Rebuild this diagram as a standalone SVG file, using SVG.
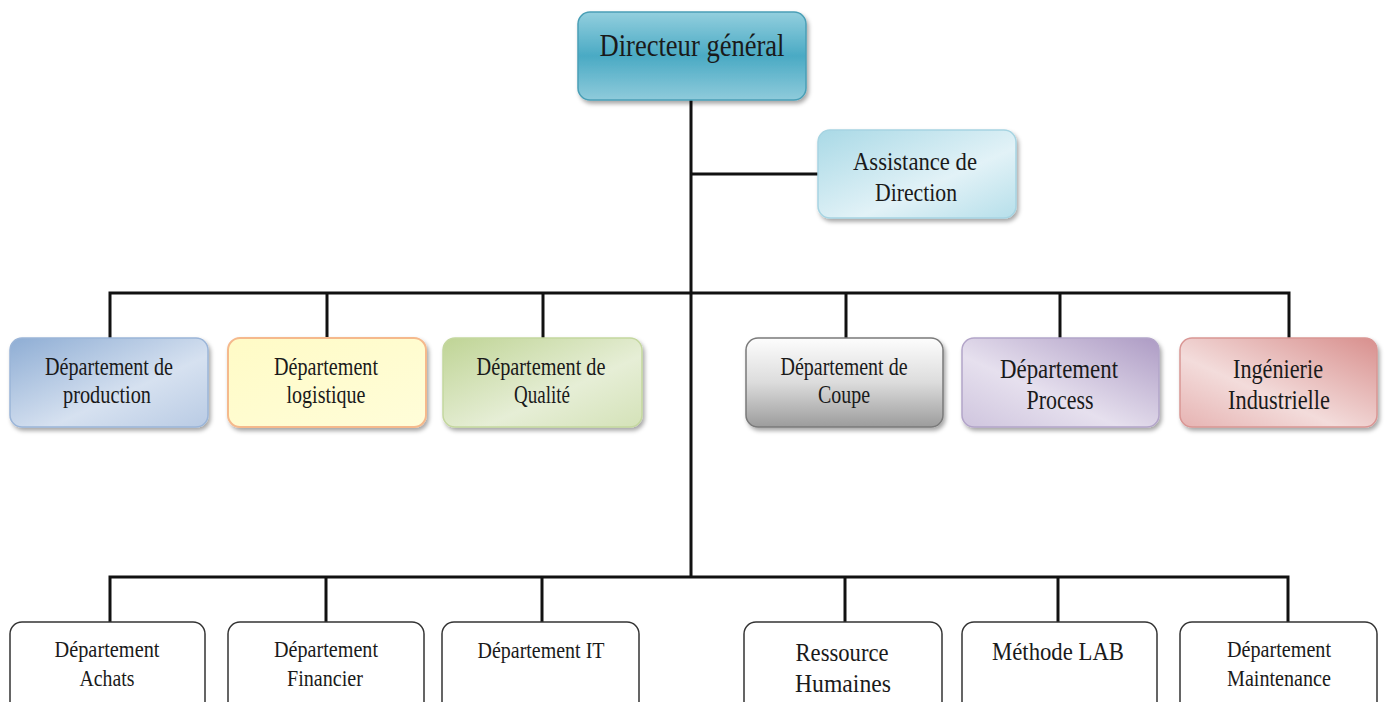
<svg xmlns="http://www.w3.org/2000/svg" width="1386" height="702" viewBox="0 0 1386 702">
<style>
text{font-family:"Liberation Serif","Times New Roman",serif;fill:#1a1a1a;text-anchor:middle}
.t{font-size:25px}
.t2{font-size:23px}
.c{stroke:#111;stroke-width:3;fill:none}
.w{fill:#fff;stroke:#333;stroke-width:1.5}
</style>
<defs>
<filter id="sh" x="-10%" y="-10%" width="125%" height="130%">
<feDropShadow dx="2" dy="3" stdDeviation="2" flood-color="#000" flood-opacity="0.35"/>
</filter>
<linearGradient id="gDG" x1="0" y1="0" x2="0" y2="1">
<stop offset="0" stop-color="#93cfde"/><stop offset="0.5" stop-color="#4aaac4"/><stop offset="1" stop-color="#8fcbdb"/>
</linearGradient>
<linearGradient id="gAs" x1="0" y1="0" x2="1" y2="1">
<stop offset="0" stop-color="#a9d9e6"/><stop offset="0.6" stop-color="#e2f2f7"/><stop offset="1" stop-color="#b6dfea"/>
</linearGradient>
<linearGradient id="g1" x1="0" y1="0" x2="1" y2="1">
<stop offset="0" stop-color="#8eadd4"/><stop offset="0.6" stop-color="#d6e1f0"/><stop offset="1" stop-color="#b9cbe4"/>
</linearGradient>
<linearGradient id="g2" x1="0" y1="0" x2="1" y2="1">
<stop offset="0" stop-color="#fffbc6"/><stop offset="1" stop-color="#fffdd9"/>
</linearGradient>
<linearGradient id="g3" x1="0" y1="0" x2="1" y2="1">
<stop offset="0" stop-color="#bfd495"/><stop offset="0.6" stop-color="#e6eed6"/><stop offset="1" stop-color="#d4e2b8"/>
</linearGradient>
<linearGradient id="g4" x1="0" y1="0" x2="0" y2="1">
<stop offset="0" stop-color="#fdfdfd"/><stop offset="0.5" stop-color="#dcdcdc"/><stop offset="1" stop-color="#9c9c9c"/>
</linearGradient>
<linearGradient id="g5" x1="1" y1="0" x2="0" y2="1">
<stop offset="0" stop-color="#ad9bc4"/><stop offset="0.6" stop-color="#e6e0ee"/><stop offset="1" stop-color="#cfc5de"/>
</linearGradient>
<linearGradient id="g6" x1="1" y1="0" x2="0" y2="1">
<stop offset="0" stop-color="#d88f8d"/><stop offset="0.6" stop-color="#f3dcdb"/><stop offset="1" stop-color="#e6b3b2"/>
</linearGradient>
</defs>

<g id="connectors">
<line class="c" x1="691" y1="100" x2="691" y2="578"/>
<line class="c" x1="691" y1="174" x2="818" y2="174"/>
<polyline class="c" points="110,338 110,293 1289,293 1289,338"/>
<line class="c" x1="327" y1="293" x2="327" y2="338"/>
<line class="c" x1="543" y1="293" x2="543" y2="338"/>
<line class="c" x1="846" y1="293" x2="846" y2="338"/>
<line class="c" x1="1060" y1="293" x2="1060" y2="338"/>
<polyline class="c" points="110,622 110,577 1288,577 1288,622"/>
<line class="c" x1="326" y1="577" x2="326" y2="622"/>
<line class="c" x1="542" y1="577" x2="542" y2="622"/>
<line class="c" x1="845" y1="577" x2="845" y2="622"/>
<line class="c" x1="1058" y1="577" x2="1058" y2="622"/>
</g>

<g id="directeur">
<rect x="578" y="12" width="228" height="88" rx="12" fill="url(#gDG)" stroke="#4a9fb6" stroke-width="1.5" filter="url(#sh)"/>
<text x="692" y="56" font-size="32" textLength="185" lengthAdjust="spacingAndGlyphs">Directeur général</text>
</g>

<g id="assistance">
<rect x="818" y="130" width="198" height="88" rx="12" fill="url(#gAs)" stroke="#a6d4e2" stroke-width="1.5" filter="url(#sh)"/>
<text x="915" y="170" font-size="26" textLength="124" lengthAdjust="spacingAndGlyphs">Assistance de</text>
<text x="916" y="201" font-size="26" textLength="82" lengthAdjust="spacingAndGlyphs">Direction</text>
</g>

<g id="dep-production">
<rect x="10" y="338" width="198" height="89" rx="12" fill="url(#g1)" stroke="#9bb5d8" stroke-width="1.5" filter="url(#sh)"/>
<text class="t" x="109" y="375" textLength="128" lengthAdjust="spacingAndGlyphs">Département de</text>
<text class="t" x="107" y="403" textLength="88" lengthAdjust="spacingAndGlyphs">production</text>
</g>

<g id="dep-logistique">
<rect x="228" y="338" width="198" height="89" rx="12" fill="url(#g2)" stroke="#f5b98c" stroke-width="2" filter="url(#sh)"/>
<text class="t" x="326" y="375" textLength="104" lengthAdjust="spacingAndGlyphs">Département</text>
<text class="t" x="326" y="403" textLength="79" lengthAdjust="spacingAndGlyphs">logistique</text>
</g>

<g id="dep-qualite">
<rect x="443" y="338" width="199" height="89" rx="12" fill="url(#g3)" stroke="#c4d79f" stroke-width="1.5" filter="url(#sh)"/>
<text class="t" x="541" y="375" textLength="129" lengthAdjust="spacingAndGlyphs">Département de</text>
<text class="t" x="542" y="403" textLength="56" lengthAdjust="spacingAndGlyphs">Qualité</text>
</g>

<g id="dep-coupe">
<rect x="746" y="338" width="197" height="89" rx="12" fill="url(#g4)" stroke="#7a7a7a" stroke-width="1.5" filter="url(#sh)"/>
<text class="t" x="844" y="375" textLength="127" lengthAdjust="spacingAndGlyphs">Département de</text>
<text class="t" x="844" y="403" textLength="52" lengthAdjust="spacingAndGlyphs">Coupe</text>
</g>

<g id="dep-process">
<rect x="962" y="338" width="197" height="89" rx="12" fill="url(#g5)" stroke="#b3a5c9" stroke-width="1.5" filter="url(#sh)"/>
<text x="1059" y="378" font-size="27" textLength="118" lengthAdjust="spacingAndGlyphs">Département</text>
<text x="1060" y="409" font-size="27" textLength="67" lengthAdjust="spacingAndGlyphs">Process</text>
</g>

<g id="ingenierie">
<rect x="1180" y="338" width="197" height="89" rx="12" fill="url(#g6)" stroke="#d99694" stroke-width="1.5" filter="url(#sh)"/>
<text x="1278" y="378" font-size="27" textLength="90" lengthAdjust="spacingAndGlyphs">Ingénierie</text>
<text x="1279" y="409" font-size="27" textLength="102" lengthAdjust="spacingAndGlyphs">Industrielle</text>
</g>

<g id="dep-achats">
<rect class="w" x="10" y="622" width="195" height="100" rx="12"/>
<text class="t2" x="107" y="657" textLength="105" lengthAdjust="spacingAndGlyphs">Département</text>
<text class="t2" x="107" y="686" textLength="55" lengthAdjust="spacingAndGlyphs">Achats</text>
</g>

<g id="dep-financier">
<rect class="w" x="228" y="622" width="196" height="100" rx="12"/>
<text class="t2" x="326" y="657" textLength="104" lengthAdjust="spacingAndGlyphs">Département</text>
<text class="t2" x="325" y="686" textLength="76" lengthAdjust="spacingAndGlyphs">Financier</text>
</g>

<g id="dep-it">
<rect class="w" x="442" y="622" width="197" height="100" rx="12"/>
<text class="t2" x="541" y="658" textLength="127" lengthAdjust="spacingAndGlyphs">Département IT</text>
</g>

<g id="ressource-humaines">
<rect class="w" x="744" y="622" width="198" height="100" rx="12"/>
<text x="842" y="661" font-size="25" textLength="93" lengthAdjust="spacingAndGlyphs">Ressource</text>
<text x="843" y="692" font-size="25" textLength="96" lengthAdjust="spacingAndGlyphs">Humaines</text>
</g>

<g id="methode-lab">
<rect class="w" x="962" y="622" width="195" height="100" rx="12"/>
<text x="1058" y="660" font-size="25" textLength="132" lengthAdjust="spacingAndGlyphs">Méthode LAB</text>
</g>

<g id="dep-maintenance">
<rect class="w" x="1180" y="622" width="197" height="100" rx="12"/>
<text class="t2" x="1279" y="657" textLength="104" lengthAdjust="spacingAndGlyphs">Département</text>
<text class="t2" x="1279" y="686" textLength="104" lengthAdjust="spacingAndGlyphs">Maintenance</text>
</g>
</svg>
